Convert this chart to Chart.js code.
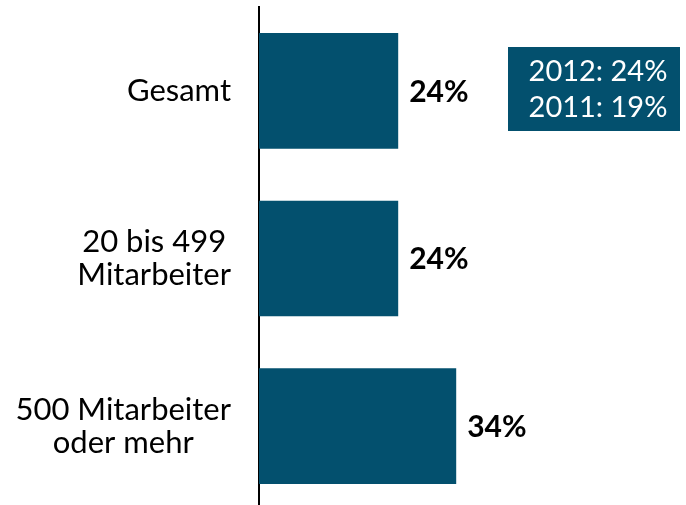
<!DOCTYPE html>
<html>
<head>
<meta charset="utf-8">
<script src="https://cdn.jsdelivr.net/npm/chart.js@4.4.0/dist/chart.umd.min.js"></script>
<style>
  html, body { margin: 0; padding: 0; background: #fff; overflow: hidden; }
  #wrap { width: 686px; height: 510px; position: relative; }
</style>
</head>
<body>
<div id="wrap"><canvas id="chart"></canvas></div>
<script>
const categories = [['Gesamt'], ['20 bis 499', 'Mitarbeiter'], ['500 Mitarbeiter', 'oder mehr']];
const values = [24, 24, 34];
const boxLines = ['2012: 24%', '2011: 19%'];

const barColor = '#03506e';
const fontFamily = 'Lato, "Open Sans", sans-serif';

// category labels: block right aligned to the axis, lines centred inside the block
const catLabels = {
  id: 'catLabels',
  afterDraw(chart) {
    const ctx = chart.ctx;
    const scale = chart.scales.y;
    const lineH = 33;
    ctx.save();
    ctx.font = '31px ' + fontFamily;
    ctx.fillStyle = '#000';
    ctx.textAlign = 'center';
    ctx.textBaseline = 'middle';
    categories.forEach((lines, i) => {
      const y = scale.getPixelForTick(i);
      const w = Math.max(...lines.map(l => ctx.measureText(l).width));
      const cx = scale.right - 28 - w / 2;
      lines.forEach((l, j) => {
        ctx.fillText(l, cx, y + (j - (lines.length - 1) / 2) * lineH);
      });
    });
    ctx.restore();
  }
};

// value labels at the end of each bar
const valueLabels = {
  id: 'valueLabels',
  afterDatasetsDraw(chart) {
    const ctx = chart.ctx;
    const meta = chart.getDatasetMeta(0);
    ctx.save();
    ctx.font = 'bold 30px ' + fontFamily;
    ctx.fillStyle = '#000';
    ctx.textAlign = 'left';
    ctx.textBaseline = 'middle';
    meta.data.forEach((bar, i) => {
      ctx.fillText(values[i] + '%', bar.x + 11, bar.y + 1);
    });
    ctx.restore();
  }
};

// the small comparison box top right
const infoBox = {
  id: 'infoBox',
  afterDraw(chart) {
    const ctx = chart.ctx;
    ctx.save();
    ctx.fillStyle = barColor;
    ctx.fillRect(508, 47, 172, 84);
    ctx.fillStyle = '#fff';
    ctx.font = '29px ' + fontFamily;
    ctx.textAlign = 'center';
    ctx.textBaseline = 'middle';
    boxLines.forEach((t, i) => ctx.fillText(t, 598, 72 + i * 36));
    ctx.restore();
  }
};

new Chart(document.getElementById('chart'), {
  type: 'bar',
  data: {
    labels: categories,
    datasets: [{
      data: values,
      backgroundColor: barColor,
      borderWidth: 0,
      barPercentage: 1,
      categoryPercentage: 0.69
    }]
  },
  options: {
    indexAxis: 'y',
    responsive: true,
    maintainAspectRatio: false,
    animation: false,
    layout: { padding: { top: 7, right: 21, bottom: 0, left: 0 } },
    plugins: { legend: { display: false }, tooltip: { enabled: false } },
    scales: {
      x: { display: false, min: 0, max: 70 },
      y: {
        afterFit(scale) {
          scale.width = 259;
          scale.paddingTop = 0;
          scale.paddingBottom = 0;
        },
        grid: { display: false, drawTicks: false },
        border: { display: true, color: '#000', width: 2 },
        ticks: { display: false }
      }
    }
  },
  plugins: [valueLabels, infoBox, catLabels]
});
</script>
</body>
</html>
